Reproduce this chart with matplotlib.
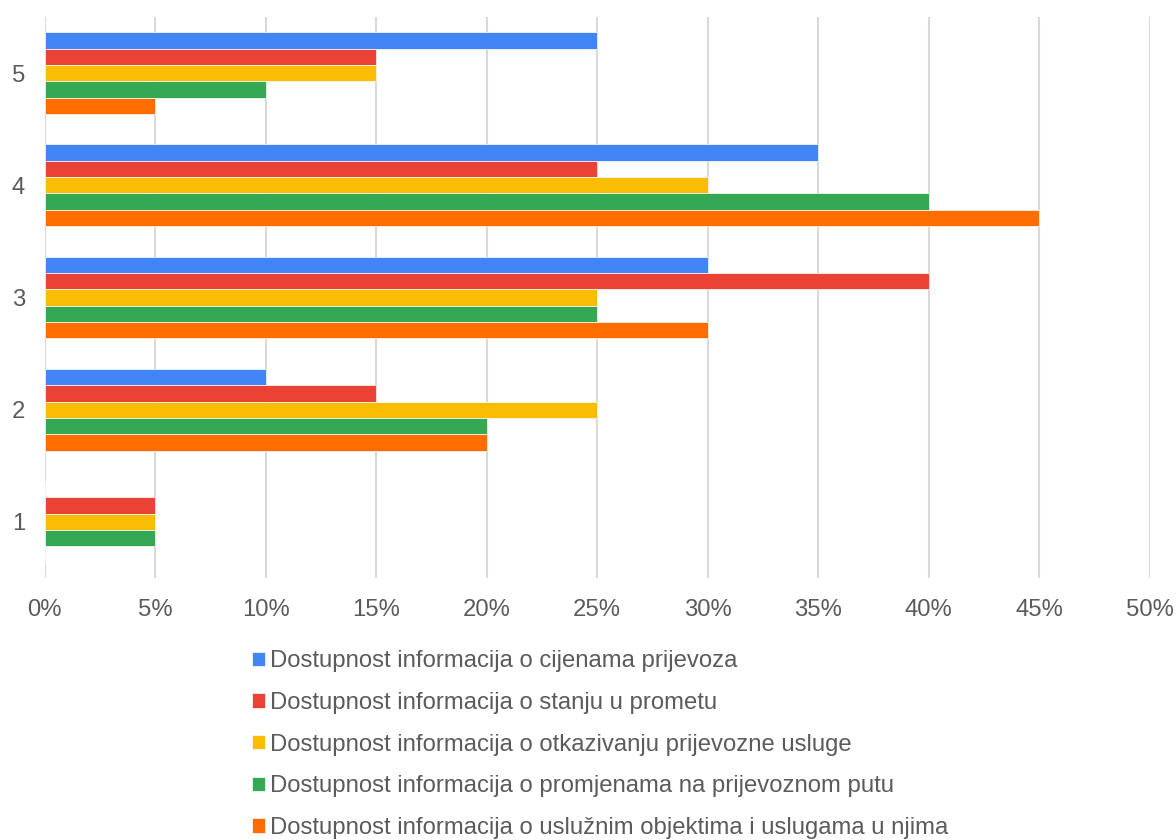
import matplotlib
matplotlib.use("Agg")
import matplotlib.pyplot as plt
import numpy as np

plt.rcParams["font.family"] = ["Liberation Sans", "DejaVu Sans"]

# Ratings (1-5) and share of responses per information type
categories = ["1", "2", "3", "4", "5"]
series_names = [
    "Dostupnost informacija o cijenama prijevoza",
    "Dostupnost informacija o stanju u prometu",
    "Dostupnost informacija o otkazivanju prijevozne usluge",
    "Dostupnost informacija o promjenama na prijevoznom putu",
    "Dostupnost informacija o uslužnim objektima i uslugama u njima",
]
cijene = [0, 10, 30, 35, 25]
stanje = [5, 15, 40, 25, 15]
otkazivanje = [5, 25, 25, 30, 15]
promjene = [5, 20, 25, 40, 10]
objekti = [0, 20, 30, 45, 5]
series_values = [cijene, stanje, otkazivanje, promjene, objekti]
colors = ["#4285F4", "#EA4335", "#FBBC04", "#34A853", "#FF6D01"]
x_ticks = [0, 5, 10, 15, 20, 25, 30, 35, 40, 45, 50]

text_color = "#5b5b5b"
grid_color = "#d9d9d9"

fig = plt.figure(figsize=(11.76, 8.4), dpi=100)
ax = fig.add_axes([44.5 / 1176, 1 - 578 / 840, 1105 / 1176, 561 / 840])

y = np.arange(len(categories))
bar_h = 0.146
handles = []
for k, (vals, col) in enumerate(zip(series_values, colors)):
    offset = (2 - k) * bar_h
    bars = ax.barh(y + offset, vals, height=bar_h, color=col,
                   edgecolor="white", linewidth=0.5, zorder=3)
    handles.append(bars)

ax.set_xlim(0, 50)
ax.set_ylim(-0.5, len(categories) - 0.5)
ax.set_xticks(x_ticks)
ax.set_xticklabels([f"{t}%" for t in x_ticks])
ax.set_yticks(y)
ax.set_yticklabels(categories)
ax.tick_params(axis="both", length=0, labelsize=17.2, colors=text_color)
ax.tick_params(axis="x", pad=15)
ax.tick_params(axis="y", pad=14)
ax.xaxis.grid(True, color=grid_color, linewidth=1.5, zorder=0)
ax.yaxis.grid(False)
for s in ax.spines.values():
    s.set_visible(False)

leg = fig.legend(handles, series_names, loc="upper left",
                 bbox_to_anchor=(252 / 1176, 1 - 650.5 / 840),
                 frameon=False, fontsize=17.2, labelcolor=text_color,
                 handlelength=0.55, handleheight=0.55, handletextpad=0.22,
                 labelspacing=0.82, borderpad=0, borderaxespad=0)

fig.savefig("out.png", dpi=100)
